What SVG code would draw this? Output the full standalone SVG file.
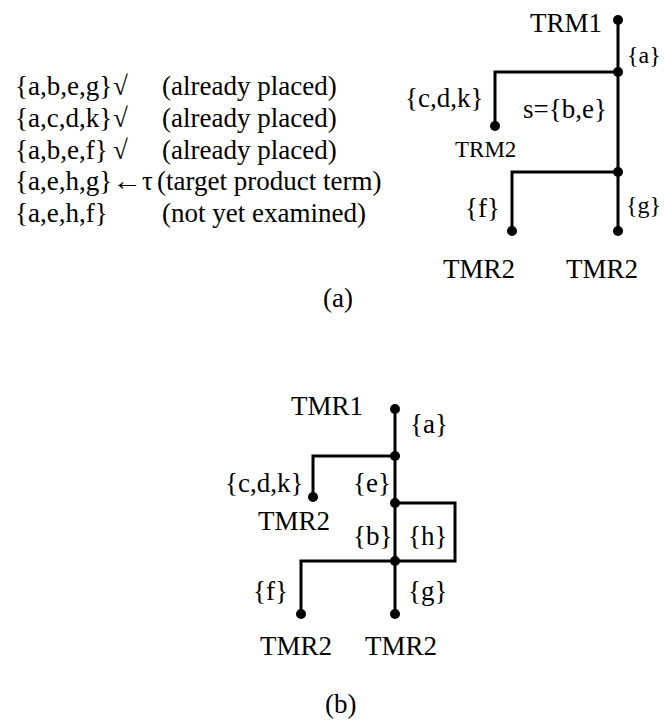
<svg xmlns="http://www.w3.org/2000/svg" width="664" height="724" viewBox="0 0 664 724">
<style>
text{font-family:"Liberation Serif","DejaVu Serif",serif;font-size:27px;fill:#000}
.sm{font-size:23px}
.edge{font-size:24px}
.ln{fill:none;stroke:#000;stroke-width:3}
.dot{fill:#000}
</style>
<rect width="664" height="724" fill="#fff"/>
<g id="list">
<text x="15" y="95">{a,b,e,g}</text><text x="113" y="95">√</text><text x="162" y="95">(already placed)</text>
<text x="15" y="127">{a,c,d,k}</text><text x="113" y="127">√</text><text x="162" y="127">(already placed)</text>
<text x="15" y="159">{a,b,e,f}</text><text x="113" y="159">√</text><text x="162" y="159">(already placed)</text>
<text x="15" y="190">{a,e,h,g}</text><text x="112" y="190" textLength="30" lengthAdjust="spacingAndGlyphs">←</text><text x="142" y="190">τ</text><text x="157" y="190">(target product term)</text>
<text x="15" y="222">{a,e,h,f}</text><text x="162" y="222">(not yet examined)</text>
</g>
<g id="connectors">
<path class="ln" d="M618,20V231M618,72H495V126M618,172H512V231"/>
<path class="ln" d="M395,409V614M395,456H313V497M395,503H455V561H395M395,561H301V614"/>
</g>
<g id="edge-labels">
<text class="edge" x="627" y="63">{a}</text>
<text x="405" y="107">{c,d,k}</text>
<text x="523" y="118">s={b,e}</text>
<text x="465" y="217">{f}</text>
<text class="edge" x="626" y="213">{g}</text>
<text x="410" y="433">{a}</text>
<text x="225" y="492">{c,d,k}</text>
<text x="353" y="492">{e}</text>
<text x="353" y="545">{b}</text>
<text x="408" y="545">{h}</text>
<text x="253" y="600">{f}</text>
<text x="408" y="600">{g}</text>
</g>
<g id="a-trm1"><circle class="dot" cx="618" cy="20" r="5"/><text x="602" y="32" text-anchor="end">TRM1</text></g>
<g id="a-j1"><circle class="dot" cx="618" cy="72" r="5"/></g>
<g id="a-trm2"><circle class="dot" cx="495" cy="126" r="5"/><text class="sm" x="455" y="157">TRM2</text></g>
<g id="a-j2"><circle class="dot" cx="618" cy="172" r="5"/></g>
<g id="a-leaf-f"><circle class="dot" cx="512" cy="231" r="5"/><text x="443" y="278">TMR2</text></g>
<g id="a-leaf-g"><circle class="dot" cx="618" cy="231" r="5"/><text x="566" y="278">TMR2</text></g>
<text x="323" y="307">(a)</text>
<g id="b-tmr1"><circle class="dot" cx="395" cy="409" r="5"/><text x="363" y="415" text-anchor="end">TMR1</text></g>
<g id="b-j1"><circle class="dot" cx="395" cy="456" r="5"/></g>
<g id="b-tmr2"><circle class="dot" cx="313" cy="497" r="5"/><text x="258" y="530">TMR2</text></g>
<g id="b-j2"><circle class="dot" cx="395" cy="503" r="5"/></g>
<g id="b-j3"><circle class="dot" cx="395" cy="561" r="5"/></g>
<g id="b-leaf-f"><circle class="dot" cx="301" cy="614" r="5"/><text x="260" y="655">TMR2</text></g>
<g id="b-leaf-g"><circle class="dot" cx="395" cy="614" r="5"/><text x="365" y="655">TMR2</text></g>
<text x="325" y="713">(b)</text>
</svg>
